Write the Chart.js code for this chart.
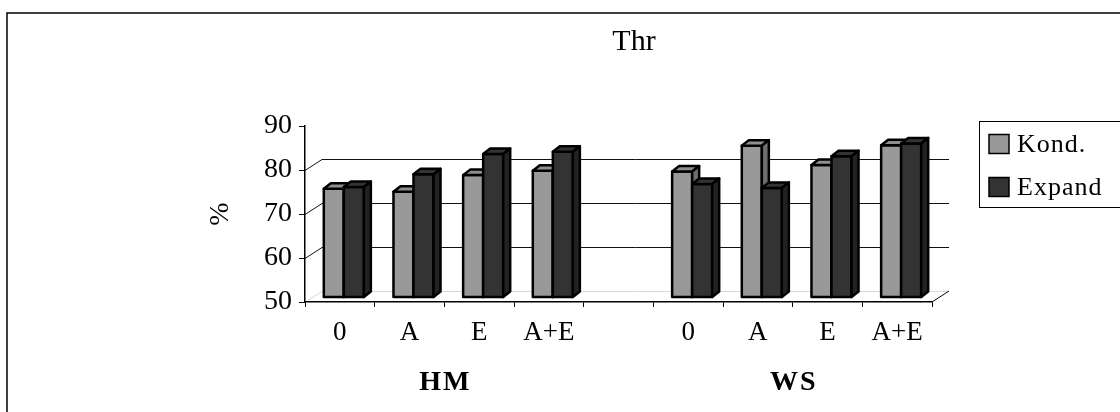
<!DOCTYPE html>
<html>
<head>
<meta charset="utf-8">
<script src="https://cdn.jsdelivr.net/npm/chart.js@4"></script>
<style>
  html, body { margin: 0; padding: 0; background: #fff; }
  #chart { display: block; }
</style>
</head>
<body>
<canvas id="chart" width="1120" height="412"></canvas>
<script>
// data
const categories = ['0', 'A', 'E', 'A+E', '', '0', 'A', 'E', 'A+E'];
const groupNames = ['HM', 'WS'];
const groupRanges = [[0, 3], [5, 8]];
const kond = [74.6, 73.9, 77.7, 78.7, null, 78.5, 84.4, 80.0, 84.5];
const expand = [75.0, 77.9, 82.5, 83.0, null, 75.7, 74.8, 82.0, 84.9];
const seriesNames = ['Kond.', 'Expand'];
const yMin = 50, yMax = 90, yStep = 10;

const FONT = "'Liberation Serif', 'Times New Roman', serif";
const frontColors = ['#999999', '#333333'];
const topColors = ['#8f8f8f', '#333333'];
const sideColors = ['#6e6e6e', '#222222'];

// 3d offsets
const WALL_DX = 17, WALL_DY = -11;   // back wall
const BAR_DX = 4, BAR_DY = -5;       // bars sit halfway back
const DEPTH_DX = 7, DEPTH_DY = -5.5; // bar depth

function drawBar(ctx, bar, i, bottom) {
    const l = bar.x - bar.width / 2;
    const r = bar.x + bar.width / 2;
    const t = bar.y;
    const b = Math.min(bar.base, bottom);
    ctx.lineWidth = 2.5;
    ctx.strokeStyle = '#000';
    ctx.lineJoin = 'round';
    // front
    ctx.fillStyle = frontColors[i];
    ctx.fillRect(l, t, r - l, b - t);
    ctx.strokeRect(l, t, r - l, b - t);
    // top
    ctx.beginPath();
    ctx.moveTo(l, t);
    ctx.lineTo(l + DEPTH_DX, t + DEPTH_DY);
    ctx.lineTo(r + DEPTH_DX, t + DEPTH_DY);
    ctx.lineTo(r, t);
    ctx.closePath();
    ctx.fillStyle = topColors[i];
    ctx.fill();
    ctx.stroke();
    // side
    ctx.beginPath();
    ctx.moveTo(r, t);
    ctx.lineTo(r + DEPTH_DX, t + DEPTH_DY);
    ctx.lineTo(r + DEPTH_DX, b + DEPTH_DY);
    ctx.lineTo(r, b);
    ctx.closePath();
    ctx.fillStyle = sideColors[i];
    ctx.fill();
    ctx.stroke();
}

const threeD = {
    id: 'threeD',
    beforeDraw(chart) {
        const ctx = chart.ctx;
        const area = chart.chartArea;
        const y = chart.scales.y;
        ctx.save();
        // outer frame
        ctx.strokeStyle = '#000';
        ctx.lineWidth = 1.5;
        ctx.beginPath();
        ctx.moveTo(7, 420);
        ctx.lineTo(7, 13);
        ctx.lineTo(1130, 13);
        ctx.stroke();

        // title
        ctx.fillStyle = '#000';
        ctx.font = '30px ' + FONT;
        ctx.textAlign = 'center';
        ctx.textBaseline = 'middle';
        ctx.fillText('Thr', 634, 42);

        // back wall grid lines
        ctx.lineWidth = 1;
        for (let v = yMin; v < yMax; v += yStep) {
            const py = Math.round(y.getPixelForValue(v)) + 0.5;
            ctx.strokeStyle = v === yMin ? '#d8d8d8' : '#111';
            ctx.beginPath();
            ctx.moveTo(area.left, py);
            ctx.lineTo(area.left + WALL_DX, py + WALL_DY);
            ctx.lineTo(area.right + WALL_DX, py + WALL_DY);
            ctx.stroke();
        }
        // floor right edge
        ctx.strokeStyle = '#000';
        ctx.beginPath();
        ctx.moveTo(area.right, area.bottom);
        ctx.lineTo(area.right + WALL_DX, area.bottom + WALL_DY);
        ctx.stroke();
        ctx.restore();
    },
    beforeDatasetsDraw(chart) {
        chart.ctx.save();
        chart.ctx.translate(BAR_DX, BAR_DY);
    },
    afterDatasetsDraw(chart) {
        const ctx = chart.ctx;
        const bottom = chart.chartArea.bottom;
        const metas = [chart.getDatasetMeta(0), chart.getDatasetMeta(1)];
        for (let k = 0; k < categories.length; k++) {
            metas.forEach((meta, i) => {
                const bar = meta.data[k];
                const v = chart.data.datasets[i].data[k];
                if (bar && v !== null) drawBar(ctx, bar, i, bottom);
            });
        }
        ctx.restore();
    },
    afterDraw(chart) {
        const ctx = chart.ctx;
        const x = chart.scales.x;
        ctx.save();
        ctx.fillStyle = '#000';
        // group labels
        ctx.font = 'bold 28px ' + FONT;
        ctx.letterSpacing = '2px';
        ctx.textAlign = 'center';
        ctx.textBaseline = 'middle';
        groupNames.forEach((g, i) => {
            const [a, b] = groupRanges[i];
            const cx = (x.getPixelForValue(a) + x.getPixelForValue(b)) / 2;
            ctx.fillText(g, cx + 1, 383);
        });
        ctx.letterSpacing = '0px';
        // y axis title
        ctx.font = '28px ' + FONT;
        ctx.translate(221, 214);
        ctx.rotate(-Math.PI / 2);
        ctx.fillText('%', 0, 0);
        ctx.restore();

        // legend
        ctx.save();
        ctx.strokeStyle = '#000';
        ctx.lineWidth = 1;
        ctx.fillStyle = '#fff';
        ctx.fillRect(979.5, 121.5, 160, 86);
        ctx.strokeRect(979.5, 121.5, 160, 86);
        ctx.font = '26px ' + FONT;
        ctx.letterSpacing = '1px';
        ctx.textAlign = 'left';
        ctx.textBaseline = 'middle';
        const rows = [144, 187];
        seriesNames.forEach((name, i) => {
            ctx.fillStyle = frontColors[i];
            ctx.lineWidth = 1.5;
            ctx.fillRect(989, rows[i] - 9.5, 20, 19);
            ctx.strokeRect(989, rows[i] - 9.5, 20, 19);
            ctx.fillStyle = '#000';
            ctx.fillText(name, 1017, rows[i] + 1);
        });
        ctx.restore();
    }
};

const ctx = document.getElementById('chart').getContext('2d');
const chart = new Chart(ctx, {
    type: 'bar',
    data: {
        labels: categories,
        datasets: [{
            label: seriesNames[0],
            data: kond,
            backgroundColor: frontColors[0],
            borderColor: '#000',
            borderWidth: 2,
            borderSkipped: false
        }, {
            label: seriesNames[1],
            data: expand,
            backgroundColor: frontColors[1],
            borderColor: '#000',
            borderWidth: 2,
            borderSkipped: false
        }]
    },
    options: {
        responsive: false,
        animation: false,
        devicePixelRatio: 1,
        categoryPercentage: 0.575,
        barPercentage: 1.0,
        layout: {
            padding: { left: 245, right: 188, top: 126, bottom: 60 }
        },
        plugins: {
            legend: { display: false },
            title: { display: false },
            tooltip: { enabled: false }
        },
        scales: {
            x: {
                offset: true,
                afterFit: (s) => { s.height = 50; },
                grid: {
                    offset: true,
                    drawOnChartArea: false,
                    drawTicks: true,
                    tickLength: 5,
                    color: '#000'
                },
                border: { display: true, color: '#000', width: 1.5 },
                ticks: {
                    color: '#000',
                    font: { family: FONT, size: 27 },
                    padding: 10,
                    maxRotation: 0,
                    autoSkip: false
                }
            },
            y: {
                min: yMin,
                max: yMax,
                afterFit: (s) => { s.width = 60; },
                grid: {
                    drawOnChartArea: false,
                    drawTicks: true,
                    tickLength: 6,
                    color: '#000'
                },
                border: { display: true, color: '#000', width: 1.5 },
                ticks: {
                    stepSize: yStep,
                    color: '#000',
                    font: { family: FONT, size: 28 },
                    padding: 7
                }
            }
        }
    },
    plugins: [threeD]
});
</script>
</body>
</html>
